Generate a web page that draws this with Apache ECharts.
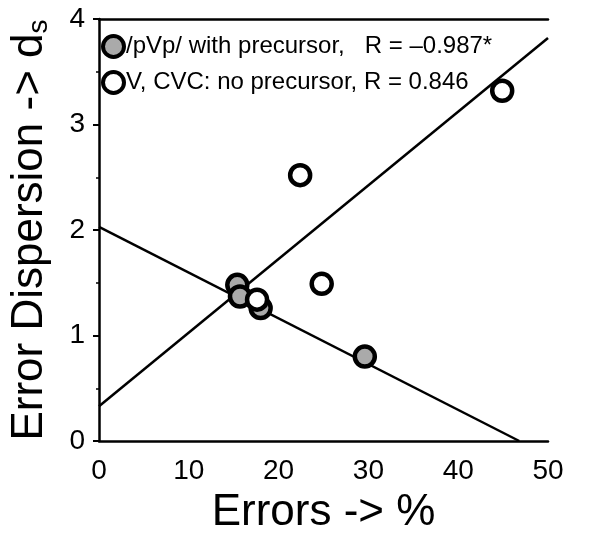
<!DOCTYPE html>
<html>
<head>
<meta charset="utf-8">
<script src="https://cdn.jsdelivr.net/npm/echarts@6/dist/echarts.min.js"></script>
<style>
html, body { margin: 0; padding: 0; background: #fff; }
#main { width: 590px; height: 535px; }
</style>
</head>
<body>
<div id="main"></div>
<script>
// /pVp/ with precursor (filled circles)
var precursorX = [15.4, 15.7, 18.0, 29.6];
var precursorY = [1.48, 1.37, 1.26, 0.80];
// V, CVC: no precursor (open circles)
var noPrecursorX = [17.6, 22.4, 24.8, 44.9];
var noPrecursorY = [1.34, 2.52, 1.49, 3.32];
// fitted lines, end points
var precursorFitX = [0, 46.8];
var precursorFitY = [2.03, 0];
var noPrecursorFitX = [0, 50];
var noPrecursorFitY = [0.33, 3.82];

var xTicks = [0, 10, 20, 30, 40, 50];
var yTicks = [0, 1, 2, 3, 4];

var name1 = '/pVp/ with precursor,   R = \u20130.987*';
var name2 = 'V, CVC: no precursor, R = 0.846';

function pairs(xs, ys) {
	var out = [];
	for (var i = 0; i < xs.length; i++) {
		out.push([xs[i], ys[i]]);
	}
	return out;
}

var font = '"Liberation Sans", Arial, Helvetica, sans-serif';
var fillGrey = '#aaa';
var myChart = echarts.init(document.getElementById('main'));

var option = {
	backgroundColor: '#fff',
	animation: false,
	textStyle: { fontFamily: font, color: '#000' },
	grid: { left: 99, right: 42, top: 19, bottom: 94, containLabel: false, outerBoundsMode: 'none' },
	legend: {
		data: [
			{ name: name1, itemStyle: { color: fillGrey, borderColor: '#000', borderWidth: 4 } },
			{ name: name2, itemStyle: { color: '#fff', borderColor: '#000', borderWidth: 4 } }
		],
		orient: 'vertical',
		left: 101,
		top: 34,
		padding: 0,
		itemWidth: 21,
		itemHeight: 21,
		itemGap: 11,
		textStyle: { fontSize: 24, fontFamily: font, color: '#000', padding: [0, 0, 0, -3] }
	},
	xAxis: [{
		type: 'value',
		min: xTicks[0],
		max: xTicks[xTicks.length - 1],
		interval: 10,
		name: 'Errors -> %',
		nameLocation: 'middle',
		nameGap: 50,
		nameTextStyle: { fontSize: 44, fontFamily: font, color: '#000' },
		axisLine: { show: true, lineStyle: { color: '#000', width: 2.5 } },
		axisTick: { show: false },
		axisLabel: { fontSize: 28, color: '#000', margin: 16, fontFamily: font },
		splitLine: { show: false }
	}, {
		type: 'value',
		position: 'top',
		min: 0,
		max: 50,
		axisLine: { show: true, onZero: false, lineStyle: { color: '#000', width: 2.5 } },
		axisTick: { show: false },
		axisLabel: { show: false },
		splitLine: { show: false }
	}],
	yAxis: {
		type: 'value',
		min: yTicks[0],
		max: yTicks[yTicks.length - 1],
		interval: 1,
		name: 'Error Dispersion -> d{s|s}',
		nameLocation: 'middle',
		nameGap: 46,
		nameTextStyle: {
			fontSize: 44, fontFamily: font, color: '#000',
			rich: { s: { fontSize: 28, fontFamily: font, color: '#000', padding: [18, 0, 0, 0] } }
		},
		axisLine: { show: true, lineStyle: { color: '#000', width: 2.5 } },
		axisTick: { show: true, length: 6, lineStyle: { color: '#000', width: 2 } },
		minorTick: { show: true, splitNumber: 2, length: 3, lineStyle: { color: '#000', width: 1.5 } },
		axisLabel: { fontSize: 28, color: '#000', margin: 14, fontFamily: font },
		splitLine: { show: false }
	},
	series: [{
		name: 'fit1',
		type: 'line',
		data: pairs(precursorFitX, precursorFitY),
		showSymbol: false,
		silent: true,
		z: 1,
		lineStyle: { color: '#000', width: 2.5 }
	}, {
		name: 'fit2',
		type: 'line',
		data: pairs(noPrecursorFitX, noPrecursorFitY),
		showSymbol: false,
		silent: true,
		z: 1,
		lineStyle: { color: '#000', width: 2.5 }
	}, {
		name: name1,
		type: 'scatter',
		data: pairs(precursorX, precursorY),
		symbol: 'circle',
		symbolSize: 20,
		z: 3,
		itemStyle: { color: fillGrey, borderColor: '#000', borderWidth: 4.5, opacity: 1 }
	}, {
		name: name2,
		type: 'scatter',
		data: pairs(noPrecursorX, noPrecursorY),
		symbol: 'circle',
		symbolSize: 20,
		z: 4,
		itemStyle: { color: '#fff', borderColor: '#000', borderWidth: 4.5, opacity: 1 }
	}]
};
myChart.setOption(option);
</script>
</body>
</html>
